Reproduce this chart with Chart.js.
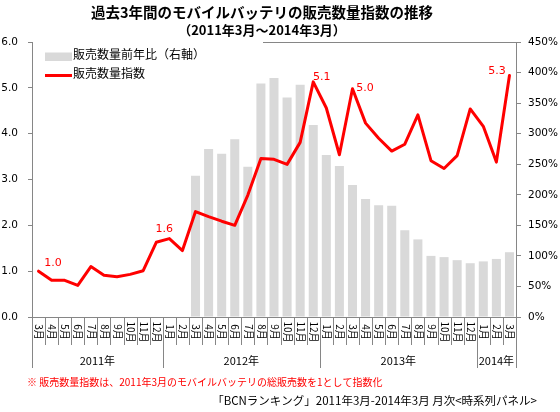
<!DOCTYPE html>
<html><head><meta charset="utf-8">
<script src="https://cdn.jsdelivr.net/npm/chart.js@4.4.1/dist/chart.umd.min.js"></script>
<style>html,body{margin:0;padding:0;background:#fff}canvas{display:block}</style>
</head><body>
<canvas id="c" width="560" height="412"></canvas>
<script>
// ---- data ----
const months = ['3月','4月','5月','6月','7月','8月','9月','10月','11月','12月',
  '1月','2月','3月','4月','5月','6月','7月','8月','9月','10月','11月','12月',
  '1月','2月','3月','4月','5月','6月','7月','8月','9月','10月','11月','12月',
  '1月','2月','3月'];
const yearLabels = ['2011年','2012年','2013年','2014年'];
const yearSpans = [10, 12, 12, 3];
const indexValues = [1.00,0.80,0.80,0.69,1.10,0.91,0.88,0.93,1.01,1.63,1.71,1.45,
  2.30,2.19,2.09,2.00,2.66,3.46,3.44,3.33,3.81,5.13,4.56,3.54,4.98,4.23,3.90,3.62,
  3.77,4.41,3.41,3.24,3.52,4.54,4.16,3.38,5.27];
const yoyValues = [null,null,null,null,null,null,null,null,null,null,null,null,
  231,275,267,291,246,382,391,359,380,314,265,247,216,193,183,182,142,127,100,98,
  93,88,91,95,106];
const leftTicks = [0,1,2,3,4,5,6];
const rightTicks = [0,50,100,150,200,250,300,350,400,450];
const labeledPoints = [0, 9, 21, 24, 36];
const titleText = '過去3年間のモバイルバッテリの販売数量指数の推移';
const subtitleText = '（2011年3月～2014年3月）';
const noteText = '※ 販売数量指数は、2011年3月のモバイルバッテリの総販売数を1として指数化';
const sourceText = '「BCNランキング」2011年3月-2014年3月 月次<時系列パネル>';
const seriesNames = ['販売数量前年比（右軸）', '販売数量指数'];

// ---- styling ----
const JP = '"Noto Sans CJK JP", sans-serif';
const NUM = '"DejaVu Sans", sans-serif';
const AXIS = '#868686';

const decor = {
  id: 'decor',
  afterDatasetsDraw(chart, args, opts) {
    const ctx = chart.ctx;
    const meta = chart.getDatasetMeta(1);
    ctx.save();
    ctx.fillStyle = '#FF0000';
    ctx.font = '11px ' + NUM;
    ctx.textAlign = 'center';
    ctx.textBaseline = 'middle';
    labeledPoints.forEach((idx, j) => {
      const p = meta.data[idx];
      const o = opts.offsets[j];
      ctx.fillText(indexValues[idx].toFixed(1), p.x + o[0], p.y + o[1]);
    });
    ctx.restore();
  },
  afterDraw(chart, args, opts) {
    const ctx = chart.ctx;
    const ca = chart.chartArea;
    const xs = chart.scales.x;
    const n = months.length;
    const edge = k => k === 0 ? ca.left : (k === n ? ca.right :
      (xs.getPixelForValue(k - 1) + xs.getPixelForValue(k)) / 2);
    ctx.save();
    // top border (hidden behind legend on the left)
    ctx.strokeStyle = AXIS; ctx.lineWidth = 1;
    ctx.beginPath();
    ctx.moveTo(opts.legendRight, Math.round(ca.top) + 0.5);
    ctx.lineTo(ca.right, Math.round(ca.top) + 0.5);
    ctx.stroke();
    // x axis line
    ctx.beginPath();
    ctx.moveTo(ca.left, Math.round(ca.bottom) + 0.5);
    ctx.lineTo(ca.right, Math.round(ca.bottom) + 0.5);
    ctx.stroke();
    // month separators
    ctx.beginPath();
    for (let k = 0; k <= n; k++) {
      const x = Math.round(edge(k)) + 0.5;
      ctx.moveTo(x, ca.bottom); ctx.lineTo(x, ca.bottom + 28);
    }
    ctx.stroke();
    // year separators
    const bounds = [0]; let acc = 0;
    yearSpans.forEach(s => { acc += s; bounds.push(acc); });
    ctx.beginPath();
    bounds.forEach(k => {
      const x = Math.round(edge(k)) + 0.5;
      ctx.moveTo(x, ca.bottom); ctx.lineTo(x, ca.bottom + 51);
    });
    ctx.stroke();
    // month labels (vertical, top-to-bottom)
    ctx.fillStyle = '#000';
    ctx.font = '10px ' + JP;
    ctx.textAlign = 'center'; ctx.textBaseline = 'middle';
    months.forEach((m, i) => {
      ctx.save();
      ctx.translate(xs.getPixelForValue(i) + 0.5, ca.bottom + 15);
      ctx.rotate(Math.PI / 2);
      ctx.fillText(m, 0, 0);
      ctx.restore();
    });
    // year labels
    ctx.font = '11px ' + JP;
    yearLabels.forEach((y, j) => {
      const x = (edge(bounds[j]) + edge(bounds[j + 1])) / 2;
      ctx.fillText(y, x, ca.bottom + 43.5);
    });
    // legend
    const ds = chart.data.datasets;
    ctx.fillStyle = ds[0].backgroundColor;
    ctx.fillRect(45, 52.5, 27, 8.5);
    ctx.strokeStyle = ds[1].borderColor; ctx.lineWidth = 3;
    ctx.beginPath(); ctx.moveTo(45, 75.5); ctx.lineTo(72, 75.5); ctx.stroke();
    ctx.fillStyle = '#000';
    ctx.font = '12px ' + JP;
    ctx.textAlign = 'left';
    ctx.fillText(ds[0].label, 73, 54.5);
    ctx.fillText(ds[1].label, 73, 73.5);
    // titles
    ctx.textAlign = 'center';
    ctx.font = 'bold 14.5px ' + JP;
    ctx.fillText(titleText, 262, 12.5);
    ctx.font = 'bold 13px ' + JP;
    ctx.fillText(subtitleText, 262, 30.5);
    // footnote
    ctx.textAlign = 'left';
    ctx.fillStyle = '#FF0000';
    ctx.font = '10px ' + JP;
    ctx.fillText(noteText, 27, 382.5);
    // source
    ctx.fillStyle = '#000';
    ctx.font = '11.5px ' + JP;
    ctx.textAlign = 'right';
    ctx.fillText(sourceText, 537, 401);
    ctx.restore();
  }
};

new Chart(document.getElementById('c'), {
  data: {
    labels: months,
    datasets: [
      { type: 'bar', label: seriesNames[0], data: yoyValues, yAxisID: 'y1',
        backgroundColor: '#D9D9D9', barPercentage: 0.69, categoryPercentage: 1, order: 2 },
      { type: 'line', label: seriesNames[1], data: indexValues, yAxisID: 'y',
        borderColor: '#FF0000', borderWidth: 3, pointRadius: 0, tension: 0,
        borderJoinStyle: 'round', borderCapStyle: 'round', fill: false, order: 1 }
    ]
  },
  options: {
    responsive: false,
    animation: false,
    layout: { padding: { top: 42, left: 0, right: 0, bottom: 0 } },
    plugins: {
      legend: { display: false },
      tooltip: { enabled: false },
      decor: { offsets: [[14.5,-8.5],[8,-13],[8.5,-5],[12.6,-1],[-12.5,-4]], legendRight: 263 }
    },
    scales: {
      x: {
        type: 'category', offset: true,
        grid: { display: false },
        ticks: { display: false },
        border: { display: false },
        afterFit: s => { s.height = 95; }
      },
      y: {
        position: 'left', min: 0, max: 6,
        afterBuildTicks: s => { s.ticks = leftTicks.map(v => ({ value: v })); },
        ticks: { callback: v => Number(v).toFixed(1), color: '#000',
          font: { family: NUM, size: 10.5 }, padding: 10 },
        grid: { drawOnChartArea: false, color: AXIS, tickLength: 4 },
        border: { color: AXIS },
        afterFit: s => { s.width = 32; }
      },
      y1: {
        position: 'right', min: 0, max: 450,
        afterBuildTicks: s => { s.ticks = rightTicks.map(v => ({ value: v })); },
        ticks: { callback: v => v + '%', color: '#000',
          font: { family: NUM, size: 10.5 }, padding: 7 },
        grid: { drawOnChartArea: false, color: AXIS, tickLength: 5 },
        border: { color: AXIS },
        afterFit: s => { s.width = 44; }
      }
    }
  },
  plugins: [decor]
});
</script>
</body></html>
